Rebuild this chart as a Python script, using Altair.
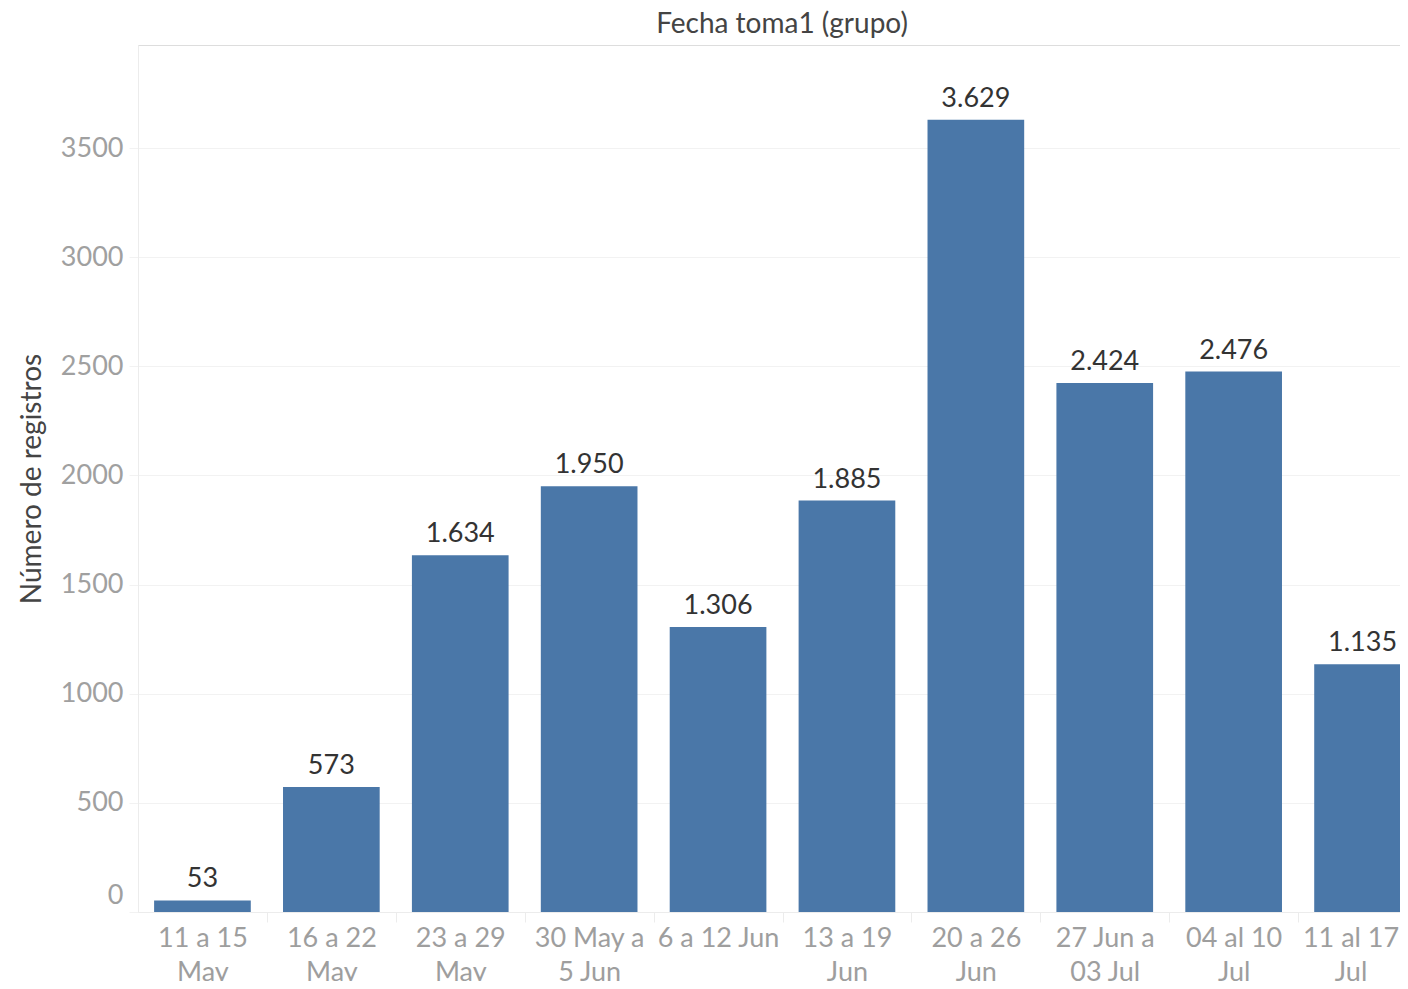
import altair as alt
import pandas as pd

categories = ["11 a 15|May", "16 a 22|May", "23 a 29|May", "30 May a|5 Jun", "6 a 12 Jun",
              "13 a 19|Jun", "20 a 26|Jun", "27 Jun a|03 Jul", "04 al 10|Jul", "11 al 17|Jul"]
values = [53, 573, 1634, 1950, 1306, 1885, 3629, 2424, 2476, 1135]
y_ticks = [0, 500, 1000, 1500, 2000, 2500, 3000, 3500]


def fmt(v):
    return f"{v:,}".replace(",", ".")


df = pd.DataFrame({"cat": categories, "val": values, "lbl": [fmt(v) for v in values]})

FONT = "Lato"
STEP = 128.9
last_cat = categories[-1]

x = alt.X(
    "cat:N", sort=categories, title=None,
    scale=alt.Scale(range=[0, STEP * 10], paddingInner=0.25, paddingOuter=0.125, round=False),
    axis=alt.Axis(labelAngle=0, labelExpr="split(datum.label, '|')", labelFont=FONT,
                  labelFontSize=27, labelColor="#9e9e9e", labelLineHeight=34, labelPadding=3,
                  labelBaseline="top",
                  tickOffset=STEP / 2,
                  labelOffset={"condition": {"test": f"datum.value === '{last_cat}'",
                                             "value": -STEP / 2 - 12},
                               "value": -STEP / 2},
                  tickColor="#ececec", tickSize=10, domainColor="#ececec",
                  grid=False),
)
y = alt.Y(
    "val:Q", title="Número de registros",
    scale=alt.Scale(domain=[0, 3972], nice=False),
    axis=alt.Axis(values=y_ticks, format="d", labelFont=FONT, labelFontSize=27,
                  labelColor="#a0a0a0", gridColor="#f2f2f2", tickColor="#f2f2f2", tickSize=9,
                  domainColor="#ececec", labelPadding=6,
                  labelOffset={"condition": {"test": "datum.value == 0", "value": -17}, "value": 0},
                  titleFont=FONT, titleFontSize=28, titleColor="#444444", titleFontWeight="normal",
                  titlePadding=14),
)

bars = alt.Chart(df).mark_bar(color="#4a77a8", clip=True).encode(x=x, y=y)
text = alt.Chart(df).mark_text(baseline="alphabetic", dy=-13, font=FONT, fontSize=27,
                               color="#333333").encode(x=x, y=y, text="lbl:N")

chart = (bars + text).properties(
    width=1262, height=867,
    autosize=alt.AutoSizeParams(type="none"),
    padding={"left": 130, "top": 37, "right": 0, "bottom": 69},
    title=alt.Title("Fecha toma1 (grupo)", font=FONT, fontSize=28, color="#444444",
                    fontWeight="normal", anchor="middle", dx=13, offset=6),
).configure_view(stroke=None).configure(background="white")

chart.save("out.html", embed_options={"renderer": "svg", "actions": False})
